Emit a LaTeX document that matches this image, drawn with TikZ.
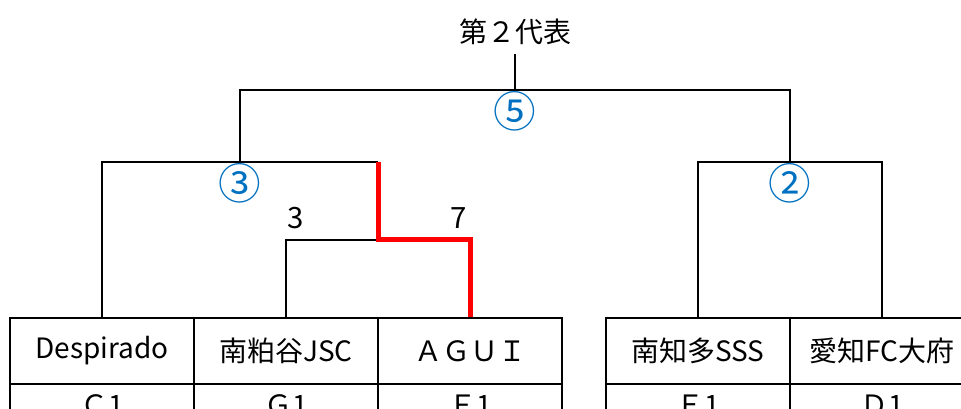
\documentclass[tikz,border=0pt]{standalone}
\usepackage{fontspec}
\setmainfont{Noto Sans CJK JP}

\tikzset{every picture/.style={line width=1.5pt}}
\tikzset{
  team/.style={draw, minimum width=138pt, minimum height=49.5pt, inner sep=0pt, font=\fontsize{21}{25}\selectfont},
  block/.style={draw, minimum width=138pt, inner xsep=0pt, inner ysep=0pt, text height=24pt, text depth=25.5pt, font=\fontsize{21}{25}\selectfont},
  seed/.style={text={rgb, 255:red, 0; green, 112; blue, 192 }, inner sep=0pt, font=\fontsize{32}{34}\selectfont},
  score/.style={inner sep=0pt, font=\fontsize{22}{25}\selectfont},
  win/.style={color={rgb, 255:red, 255; green, 0; blue, 0 }, draw opacity=1, line width=3.75pt}
}

\begin{document}
\begin{tikzpicture}[x=0.75pt,y=0.75pt,yscale=-1,xscale=1]
\useasboundingbox (0,0) rectangle (961,409);
\clip (0,0) rectangle (961,409);

% Text Node
\node [anchor=south, inner sep=6pt, font=\fontsize{21}{25}\selectfont] (daihyo) at (515,54) {第２代表};

%Shape: Table, first row
\node [team] (despi) at (102,351) {Despirado};
\node [team] (minami) at (286,351) {南粕谷JSC};
\node [team] (agui) at (470,351) {ＡＧＵＩ};
\node [team] (chita) at (698,351) {南知多SSS};
\node [team] (aichi) at (882,351) {愛知FC大府};
%Shape: Table, second row
\node [block] (c1) at (102,417) {Ｃ1};
\node [block] (g1) at (286,417) {Ｇ1};
\node [block] (f1) at (470,417) {Ｆ1};
\node [block] (e1) at (698,417) {Ｅ1};
\node [block] (d1) at (882,417) {Ｄ1};

% junctions
\coordinate (r1) at (378,240);
\coordinate (r2) at (240,162);
\coordinate (r3) at (790,162);
\coordinate (fin) at (515,90);

%Straight Lines
\draw (minami.north) |- (r1);
\draw (despi.north) |- (r1 |- r2);
\draw (chita.north) |- (aichi.north |- r3) -- (aichi.north);
\draw (r2) |- (r3 |- fin) -- (r3);
\draw (fin) -- (daihyo.south);
%Straight Lines (winner)
\draw [win] (agui.north) |- (r1) -- (r1 |- r2);

% Text Node
\node [seed] (s5) at (515,111) {⑤};
\node [seed] (s3) at (240,183) {③};
\node [seed] (s2) at (790,183) {②};
\node [score] (p3) at (296,218) {3};
\node [score] (p7) at (459,218) {7};

\end{tikzpicture}
\end{document}
